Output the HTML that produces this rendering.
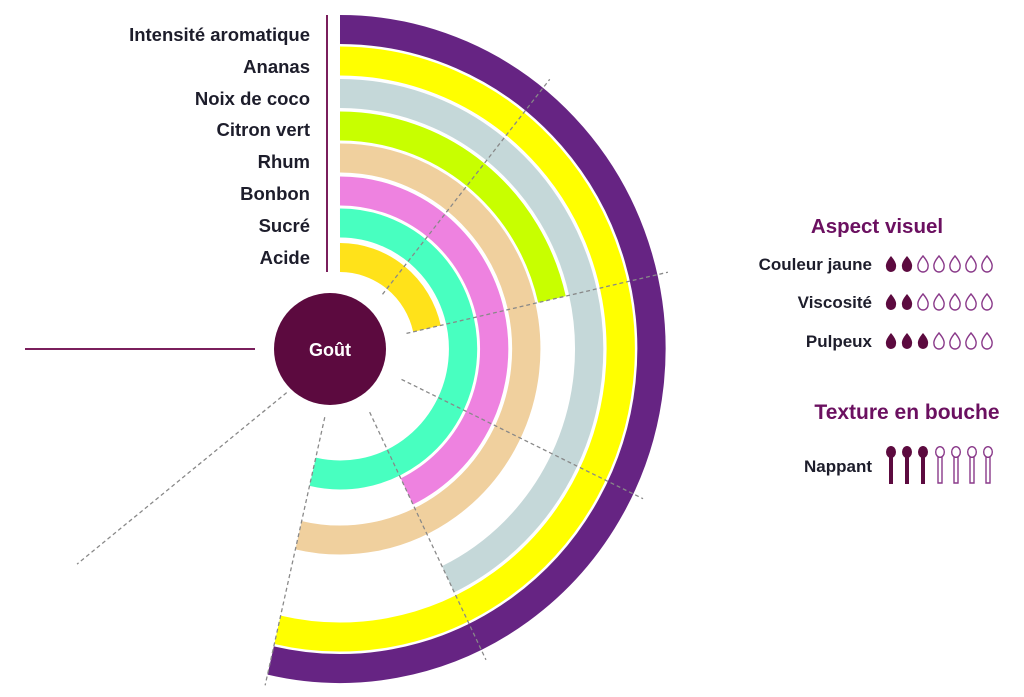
<!DOCTYPE html>
<html><head><meta charset="utf-8"><style>
html,body{margin:0;padding:0;background:#fff;}
svg{display:block;}
text{font-family:"Liberation Sans",sans-serif;font-weight:bold;}
</style></head><body>
<svg width="1024" height="697" viewBox="0 0 1024 697" xmlns="http://www.w3.org/2000/svg">
<line x1="327" y1="15" x2="327" y2="272" stroke="#7a1f5c" stroke-width="2"/>
<line x1="25" y1="349" x2="255" y2="349" stroke="#7a1f5c" stroke-width="2"/>
<g font-size="18.5" fill="#1d1d2b" text-anchor="end">
<text x="310" y="41">Intensité aromatique</text>
<text x="310" y="73">Ananas</text>
<text x="310" y="105">Noix de coco</text>
<text x="310" y="136">Citron vert</text>
<text x="310" y="168">Rhum</text>
<text x="310" y="200">Bonbon</text>
<text x="310" y="232">Sucré</text>
<text x="310" y="264">Acide</text>
</g>
<g transform="translate(340,349) scale(0.975,1)" fill="none" stroke-width="29">
<path d="M0,-319.5 A319.5,319.5 0 1 1 -71.1,311.5" stroke="#662483"/>
<path d="M0,-288 A288,288 0 1 1 -64.1,280.8" stroke="#FFFF00"/>
<path d="M0,-255.5 A255.5,255.5 0 0 1 110.9,230.2" stroke="#C5D8D9"/>
<path d="M0,-223 A223,223 0 0 1 217.4,-49.6" stroke="#C8FF00"/>
<path d="M0,-191 A191,191 0 1 1 -42.5,186.2" stroke="#F0D09E"/>
<path d="M0,-158 A158,158 0 0 1 68.6,142.4" stroke="#EE82E0"/>
<path d="M0,-126 A126,126 0 1 1 -28.0,122.8" stroke="#48FFC0"/>
<path d="M0,-91.5 A91.5,91.5 0 0 1 89.2,-20.4" stroke="#FFE21A"/>
<g stroke="#888" stroke-width="1.3" stroke-dasharray="4 3">
<line x1="43.6" y1="-54.7" x2="215.1" y2="-269.7"/>
<line x1="68.2" y1="-15.6" x2="336.3" y2="-76.8"/>
<line x1="63.1" y1="30.4" x2="310.8" y2="149.7"/>
<line x1="30.4" y1="63.1" x2="149.7" y2="310.8"/>
<line x1="-15.6" y1="68.2" x2="-76.8" y2="336.3"/>
<line x1="-54.7" y1="43.6" x2="-269.7" y2="215.1"/>
</g>
</g>
<circle cx="330" cy="349" r="56" fill="#5c0a3f"/>
<text x="330" y="356" font-size="18" fill="#fff" text-anchor="middle">Goût</text>

<text x="877" y="233" font-size="20.5" fill="#6b1060" text-anchor="middle">Aspect visuel</text>
<g font-size="17" fill="#1d1d2b" text-anchor="end">
<text x="872" y="270">Couleur jaune</text>
<text x="872" y="308">Viscosité</text>
<text x="872" y="347">Pulpeux</text>
<text x="872" y="472">Nappant</text>
</g>
<text x="907" y="419" font-size="21" fill="#6b1060" text-anchor="middle">Texture en bouche</text>
<defs>
<path id="d" d="M0,-8 Q6,-1 5,3 A5,5 0 0 1 -5,3 Q-6,-1 0,-8Z"/>
<g id="sf"><ellipse cx="0" cy="-11" rx="5" ry="6"/><rect x="-2" y="-7" width="4" height="28"/></g>
<g id="so"><ellipse cx="0" cy="-11" rx="4.3" ry="5.3"/><path d="M-2,-6 L-2,20 L2,20 L2,-6"/></g>
</defs>
<g fill="#5c0a3f">
<use href="#d" x="891" y="264"/><use href="#d" x="907" y="264"/>
<use href="#d" x="891" y="302"/><use href="#d" x="907" y="302"/>
<use href="#d" x="891" y="341"/><use href="#d" x="907" y="341"/><use href="#d" x="923" y="341"/>
</g>
<g fill="none" stroke="#8a3a8a" stroke-width="1.4">
<use href="#d" x="923" y="264"/><use href="#d" x="939" y="264"/><use href="#d" x="955" y="264"/><use href="#d" x="971" y="264"/><use href="#d" x="987" y="264"/>
<use href="#d" x="923" y="302"/><use href="#d" x="939" y="302"/><use href="#d" x="955" y="302"/><use href="#d" x="971" y="302"/><use href="#d" x="987" y="302"/>
<use href="#d" x="939" y="341"/><use href="#d" x="955" y="341"/><use href="#d" x="971" y="341"/><use href="#d" x="987" y="341"/>
</g>
<g fill="#5c0a3f">
<use href="#sf" x="891" y="463"/><use href="#sf" x="907" y="463"/><use href="#sf" x="923" y="463"/>
</g>
<g fill="none" stroke="#8a3a8a" stroke-width="1.4">
<use href="#so" x="940" y="463"/><use href="#so" x="956" y="463"/><use href="#so" x="972" y="463"/><use href="#so" x="988" y="463"/>
</g>
</svg>
</body></html>
